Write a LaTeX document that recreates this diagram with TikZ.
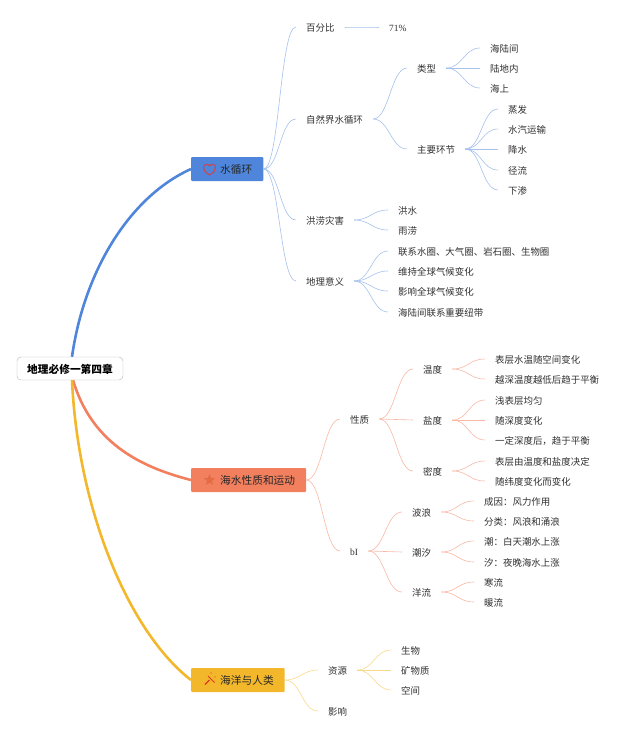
\documentclass[tikz,border=0pt]{standalone}
\usepackage{fontspec}
\setmainfont{Noto Sans CJK SC}
\newfontfamily\latinfont{Liberation Serif}
\usetikzlibrary{calc,shapes.geometric}
\definecolor{rootline}{HTML}{B4B4B4}
\definecolor{seablue}{HTML}{4F86DB}
\definecolor{seared}{HTML}{F2805F}
\definecolor{seagold}{HTML}{F3B72B}
\definecolor{paleblue}{HTML}{A6C1EC}
\definecolor{palered}{HTML}{F8B8A4}
\definecolor{palegold}{HTML}{F6D98C}
\definecolor{inktext}{HTML}{303030}
\definecolor{heartred}{HTML}{C8454F}
\definecolor{starred}{HTML}{E56B43}
\definecolor{wandred}{HTML}{DD3A20}
\newcommand{\iconroom}{\hspace*{18pt}}
\tikzset{
  leaf/.style={anchor=west,inner xsep=10pt,inner ysep=0pt,text height=9.6pt,text depth=1pt,
    font=\fontsize{9.45}{12}\selectfont,text=inktext},
  topic/.style={anchor=west,fill=#1,rounded corners=1pt,inner xsep=11pt,inner ysep=0pt,minimum height=24pt,
    text height=10pt,text depth=1pt,font=\fontsize{10.7}{12}\selectfont,text=black!85},
  trunk/.style={color=#1,line width=2.6pt},
  twig/.style={color=#1,line width=.6pt,
    to path={.. controls ($(\tikztostart)+(16pt,0)$) and ($(\tikztotarget)-(16pt,0)$) .. (\tikztotarget)}}
}
\begin{document}
\begin{tikzpicture}[x=1pt,y=1pt]
   \useasboundingbox (0,0) rectangle (640,-737);

   \node[draw=rootline,fill=white,rounded corners=4pt,minimum width=106pt,minimum height=23pt,inner sep=0pt,
     text height=10pt,text depth=1pt,font=\fontsize{10.7}{12}\selectfont\bfseries] (root) at (70,-368.5) {地理必修一第四章};

   \node[topic=seablue] (water) at (191,-169) {\iconroom 水循环};
   \node[topic=seared] (ocean) at (191,-480) {\iconroom 海水性质和运动};
   \node[topic=seagold] (human) at (191,-680) {\iconroom 海洋与人类};

   \draw[trunk=seablue] ([xshift=2pt]root.north) .. controls +(12,85) and +(-62,-28) .. (water.west);
   \draw[trunk=seared] ([xshift=3pt]root.south) .. controls +(18,-60) and +(-55,14) .. (ocean.west);
   \draw[trunk=seagold] ([xshift=2pt]root.south) .. controls +(6,-130) and +(-62,48) .. (human.west);

   \node[leaf] (pct) at (296,-27) {百分比};
   \node[leaf,font=\fontsize{9.5}{12}\latinfont] (pctval) at (379,-27) {71\%};
   \node[leaf] (cycle) at (296,-119) {自然界水循环};
   \node[leaf] (kind) at (407,-68) {类型};
   \node[leaf] (kind_a) at (480,-48) {海陆间};
   \node[leaf] (kind_b) at (480,-68) {陆地内};
   \node[leaf] (kind_c) at (480,-88) {海上};
   \node[leaf] (link) at (407,-149) {主要环节};
   \node[leaf] (link_a) at (498,-109) {蒸发};
   \node[leaf] (link_b) at (498,-129) {水汽运输};
   \node[leaf] (link_c) at (498,-149) {降水};
   \node[leaf] (link_d) at (498,-170) {径流};
   \node[leaf] (link_e) at (498,-190) {下渗};
   \node[leaf] (flood) at (296,-220) {洪涝灾害};
   \node[leaf] (flood_a) at (388,-210) {洪水};
   \node[leaf] (flood_b) at (388,-230) {雨涝};
   \node[leaf] (mean) at (296,-281) {地理意义};
   \node[leaf] (mean_a) at (388,-251) {联系水圈、大气圈、岩石圈、生物圈};
   \node[leaf] (mean_b) at (388,-271) {维持全球气候变化};
   \node[leaf] (mean_c) at (388,-291) {影响全球气候变化};
   \node[leaf] (mean_d) at (388,-312) {海陆间联系重要纽带};

   \node[leaf] (prop) at (340,-419) {性质};
   \node[leaf] (temp) at (413,-369) {温度};
   \node[leaf] (temp_a) at (485,-359) {表层水温随空间变化};
   \node[leaf] (temp_b) at (485,-379) {越深温度越低后趋于平衡};
   \node[leaf] (salt) at (413,-420) {盐度};
   \node[leaf] (salt_a) at (485,-400) {浅表层均匀};
   \node[leaf] (salt_b) at (485,-420) {随深度变化};
   \node[leaf] (salt_c) at (485,-440) {一定深度后，趋于平衡};
   \node[leaf] (dens) at (413,-471) {密度};
   \node[leaf] (dens_a) at (485,-461) {表层由温度和盐度决定};
   \node[leaf] (dens_b) at (485,-481) {随纬度变化而变化};
   \node[leaf,font=\fontsize{9.5}{12}\latinfont] (move) at (340,-551) {bI};
   \node[leaf] (wave) at (402,-512) {波浪};
   \node[leaf] (wave_a) at (474,-501) {成因：风力作用};
   \node[leaf] (wave_b) at (474,-521) {分类：风浪和涌浪};
   \node[leaf] (tide) at (402,-552) {潮汐};
   \node[leaf] (tide_a) at (474,-541) {潮：白天潮水上涨};
   \node[leaf] (tide_b) at (474,-562) {汐：夜晚海水上涨};
   \node[leaf] (curr) at (402,-592) {洋流};
   \node[leaf] (curr_a) at (474,-582) {寒流};
   \node[leaf] (curr_b) at (474,-602) {暖流};

   \node[leaf] (res) at (318,-670) {资源};
   \node[leaf] (res_a) at (391,-650) {生物};
   \node[leaf] (res_b) at (391,-670) {矿物质};
   \node[leaf] (res_c) at (391,-690) {空间};
   \node[leaf] (effect) at (318,-711) {影响};

   \path[twig=paleblue]
    (water.east) edge (pct.west)
                 edge (cycle.west)
                 edge (flood.west)
                 edge (mean.west)
    (pct.east) edge[line width=1pt] (pctval.west)
    (cycle.east) edge (kind.west)
                 edge (link.west)
    (kind.east) edge (kind_a.west)
                edge (kind_b.west)
                edge (kind_c.west)
    (link.east) edge (link_a.west)
                edge (link_b.west)
                edge (link_c.west)
                edge (link_d.west)
                edge (link_e.west)
    (flood.east) edge (flood_a.west)
                 edge (flood_b.west)
    (mean.east) edge (mean_a.west)
                edge (mean_b.west)
                edge (mean_c.west)
                edge (mean_d.west);
   \path[twig=palered]
    (ocean.east) edge (prop.west)
                 edge (move.west)
    (prop.east) edge (temp.west)
                edge (salt.west)
                edge (dens.west)
    (temp.east) edge (temp_a.west)
                edge (temp_b.west)
    (salt.east) edge (salt_a.west)
                edge (salt_b.west)
                edge (salt_c.west)
    (dens.east) edge (dens_a.west)
                edge (dens_b.west)
    (move.east) edge (wave.west)
                edge (tide.west)
                edge (curr.west)
    (wave.east) edge (wave_a.west)
                edge (wave_b.west)
    (tide.east) edge (tide_a.west)
                edge (tide_b.west)
    (curr.east) edge (curr_a.west)
                edge (curr_b.west);
   \path[twig=palegold]
    (human.east) edge (res.west)
                 edge (effect.west)
    (res.east) edge (res_a.west)
               edge (res_b.west)
               edge (res_c.west);

   \draw[color=heartred,line width=1pt,line join=round]
    (209.5,-175) .. controls (205,-172) and (203,-170) .. (203.5,-167)
    .. controls (204,-164) and (208,-163.5) .. (209.5,-166)
    .. controls (211,-163.5) and (215,-164) .. (215.5,-167)
    .. controls (216,-170) and (214,-172) .. (209.5,-175) -- cycle;
   \node[star,star points=5,star point ratio=2.3,fill=starred,inner sep=0pt,minimum size=12pt] (staricon) at (209.5,-480) {};
   \draw[color=wandred,line width=1.3pt] (205,-684.5) -- (209.5,-680);
   \draw[color=wandred,line width=.9pt] (208,-676) -- (214.5,-682.5);
   \fill[wandred] (211,-673) circle (.7pt) (215,-677) circle (.7pt);
\end{tikzpicture}
\end{document}
